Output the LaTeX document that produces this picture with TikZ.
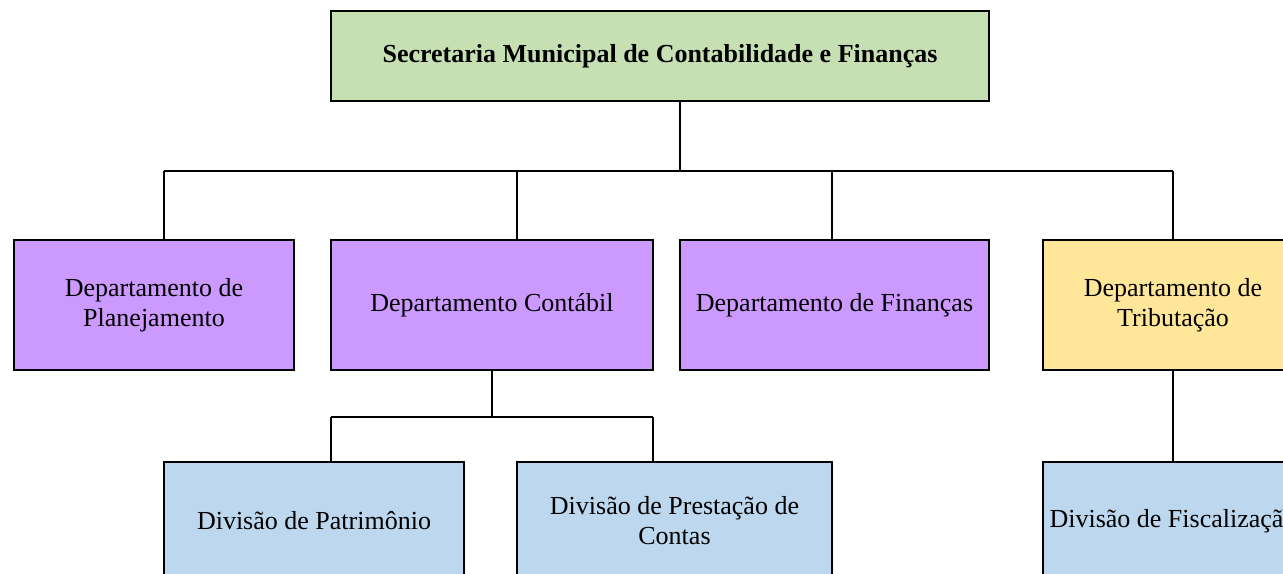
\documentclass[tikz,border=0pt]{standalone}
\usepackage{fontspec}
\setmainfont{Liberation Serif}
\usetikzlibrary{positioning}

\definecolor{secgreen}{HTML}{C6E0B4}
\definecolor{deppurple}{HTML}{CC99FF}
\definecolor{depyellow}{HTML}{FFE699}
\definecolor{divblue}{HTML}{BDD7EE}

\begin{document}
\begin{tikzpicture}[x=0.75pt,y=-0.75pt]
  \tikzstyle{every node}=[draw, line width=0.9pt, rectangle, align=center, inner sep=0pt, font=\fontsize{19.5}{22.5}\selectfont]
  \tikzstyle{depbox}=[minimum height=97.5pt, fill=deppurple]
  \tikzstyle{divbox}=[minimum height=88.5pt, fill=divblue]
  \useasboundingbox (0,0) rectangle (1283,574);
  \clip (0,0) rectangle (1283,574);

  % Specification of nodes (position, etc.)
  \node[fill=secgreen, minimum width=493.5pt, minimum height=67.5pt, font=\fontsize{19.5}{22.5}\selectfont\bfseries] (Secretaria) at (660,56) {Secretaria Municipal de Contabilidade e Finanças};
  \node[depbox, minimum width=210pt] (Planejamento) at (154,305) {Departamento de\\Planejamento};
  \node[depbox, minimum width=241.5pt] (Contabil) at (492,305) {Departamento Contábil};
  \node[depbox, minimum width=231.75pt] (Financas) at (834.5,305) {Departamento de Finanças};
  \node[depbox, fill=depyellow, minimum width=195pt] (Tributacao) at (1173,305) {Departamento de\\Tributação};
  \node[divbox, minimum width=225pt] (Patrimonio) at (314,521) {Divisão de Patrimônio};
  \node[divbox, minimum width=236.25pt] (Prestacao) at (674.5,521) {Divisão de Prestação de\\Contas};
  \node[divbox, minimum width=195pt] (Fiscalizacao) at (1173,521) {Divisão de Fiscalização};

  % junctions of the connectors
  \coordinate (top) at (680,171);
  \coordinate (busA) at (164,171);
  \coordinate (busB) at (517,171);
  \coordinate (busC) at (832,171);
  \coordinate (busD) at (1173,171);
  \coordinate (subA) at (331,417);
  \coordinate (subB) at (653,417);

  \begin{scope}[line width=0.9pt]
    \draw (top |- Secretaria.south) -- (top);
    \draw (busA) -- (busD);
    \draw (busA) -- (busA |- Planejamento.north);
    \draw (busB) -- (busB |- Contabil.north);
    \draw (busC) -- (busC |- Financas.north);
    \draw (busD) -- (Tributacao.north);
    \draw (Contabil.south) -- (Contabil.south |- subA);
    \draw (subA) -- (subB);
    \draw (subA) -- (subA |- Patrimonio.north);
    \draw (subB) -- (subB |- Prestacao.north);
    \draw (Tributacao) -- (Fiscalizacao);
  \end{scope}
\end{tikzpicture}
\end{document}
